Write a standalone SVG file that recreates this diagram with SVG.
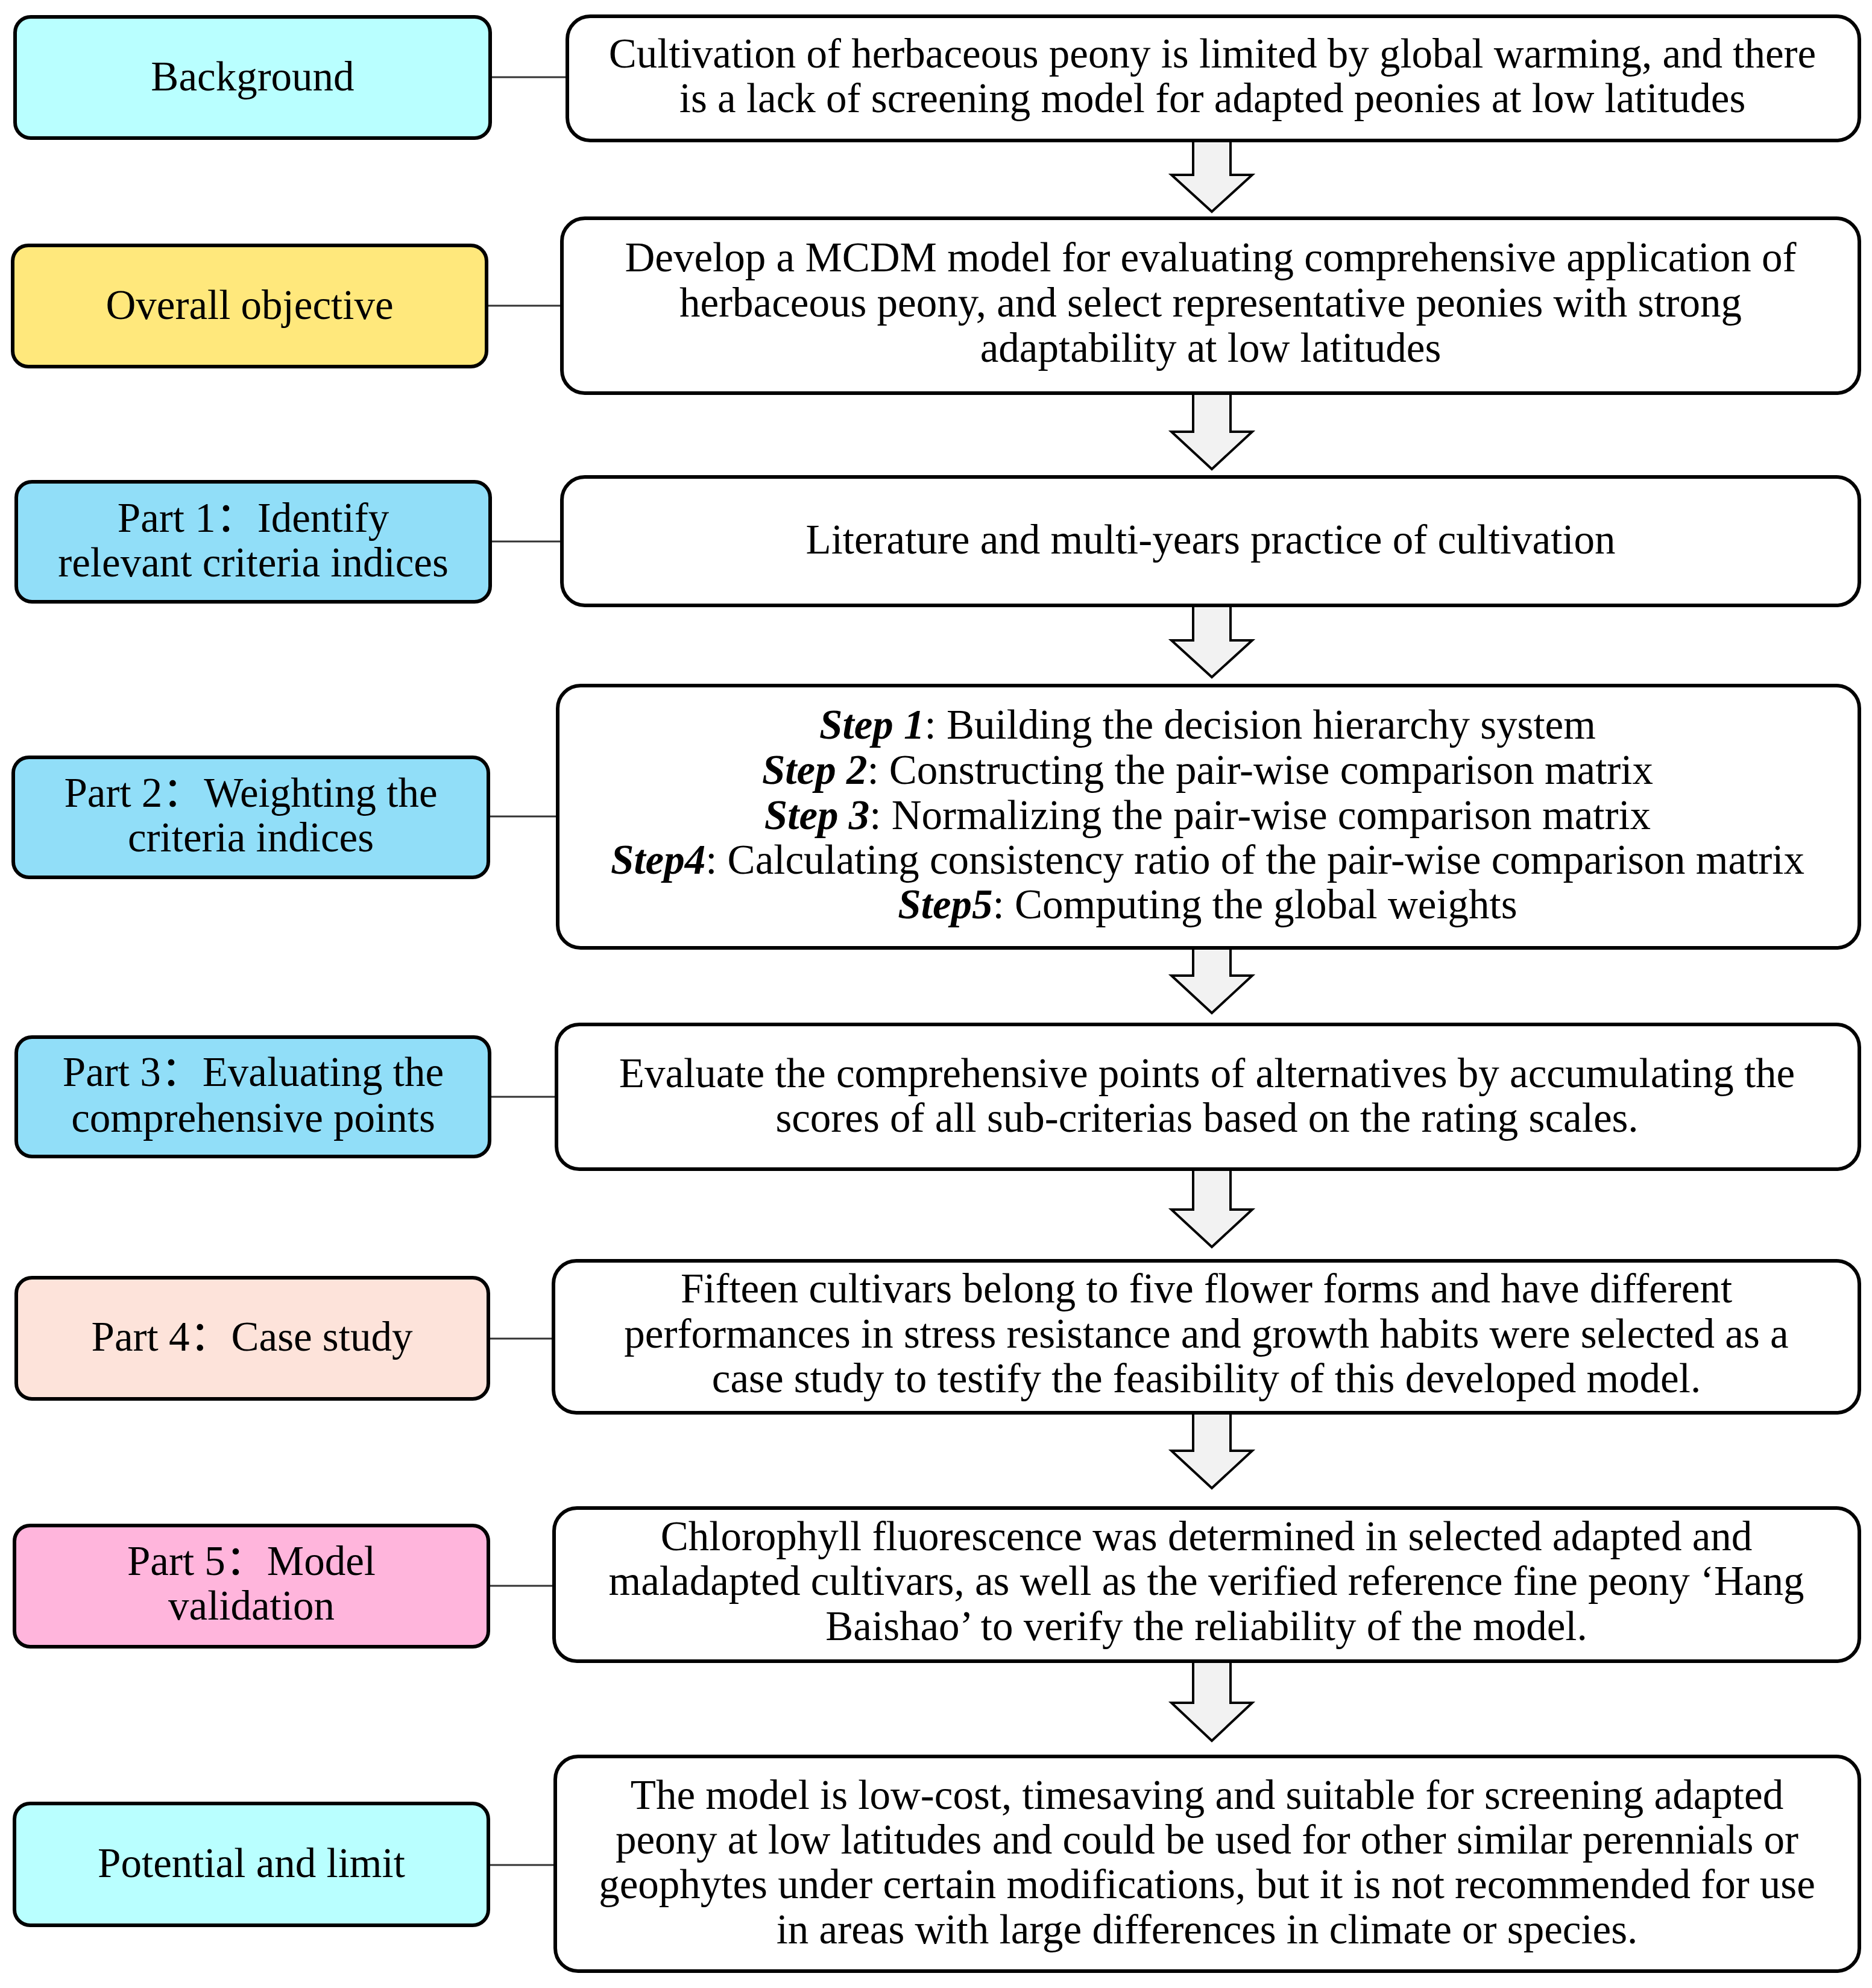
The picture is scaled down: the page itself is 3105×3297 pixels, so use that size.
<svg xmlns="http://www.w3.org/2000/svg" width="3105" height="3297" viewBox="0 0 3105 3297">
<style>
.lb{stroke:#000;stroke-width:6}
.rb{fill:#fff;stroke:#000;stroke-width:6}
.t{font-family:"Liberation Serif","Noto Sans CJK SC",serif;font-size:69px;text-anchor:middle;fill:#000}
.s{font-weight:bold;font-style:italic}
.c{stroke:#333;stroke-width:3;fill:none}
.ar{fill:#f2f2f2;stroke:#000;stroke-width:4;stroke-linejoin:miter}
.bg{fill:#b9ffff}.ob{fill:#ffe87c}.pt{fill:#91def8}.p4{fill:#fde3da}.p5{fill:#ffb5dc}
</style>
<rect width="3105" height="3297" fill="#fff"/>
<g id="connectors">
<line class="c" x1="813" y1="128" x2="941" y2="128"/>
<line class="c" x1="807" y1="507" x2="932" y2="507"/>
<line class="c" x1="813" y1="898" x2="932" y2="898"/>
<line class="c" x1="810" y1="1354" x2="925" y2="1354"/>
<line class="c" x1="812" y1="1819" x2="923" y2="1819"/>
<line class="c" x1="810" y1="2220" x2="918" y2="2220"/>
<line class="c" x1="810" y1="2630" x2="919" y2="2630"/>
<line class="c" x1="810" y1="3093" x2="921" y2="3093"/>
<polygon class="ar" points="1979,228 2041,228 2041,290 2077,290 2010,351 1943,290 1979,290"/>
<polygon class="ar" points="1979,647 2041,647 2041,716 2077,716 2010,778 1943,716 1979,716"/>
<polygon class="ar" points="1979,999 2041,999 2041,1062 2077,1062 2010,1123 1943,1062 1979,1062"/>
<polygon class="ar" points="1979,1567 2041,1567 2041,1618 2077,1618 2010,1680 1943,1618 1979,1618"/>
<polygon class="ar" points="1979,1934 2041,1934 2041,2006 2077,2006 2010,2068 1943,2006 1979,2006"/>
<polygon class="ar" points="1979,2338 2041,2338 2041,2406 2077,2406 2010,2468 1943,2406 1979,2406"/>
<polygon class="ar" points="1979,2750 2041,2750 2041,2824 2077,2824 2010,2887 1943,2824 1979,2824"/>
</g>
<g id="n-background"><rect class="lb bg" x="25" y="28" width="788" height="201" rx="26"/><text class="t" x="419" y="150">Background</text></g>
<g id="n-objective"><rect class="lb ob" x="21" y="407" width="786" height="201" rx="26"/><text class="t" x="414" y="529">Overall objective</text></g>
<g id="n-part1"><rect class="lb pt" x="27" y="799" width="786" height="199" rx="26"/><text class="t" x="420" y="882">Part 1：Identify</text><text class="t" x="420" y="956">relevant criteria indices</text></g>
<g id="n-part2"><rect class="lb pt" x="22" y="1256" width="788" height="199" rx="26"/><text class="t" x="416" y="1338">Part 2：Weighting the</text><text class="t" x="416" y="1412">criteria indices</text></g>
<g id="n-part3"><rect class="lb pt" x="27" y="1720" width="785" height="198" rx="26"/><text class="t" x="420" y="1801">Part 3：Evaluating the</text><text class="t" x="420" y="1877">comprehensive points</text></g>
<g id="n-part4"><rect class="lb p4" x="27" y="2119" width="783" height="201" rx="26"/><text class="t" x="418" y="2240">Part 4：Case study</text></g>
<g id="n-part5"><rect class="lb p5" x="24" y="2530" width="786" height="201" rx="26"/><text class="t" x="417" y="2612">Part 5：Model</text><text class="t" x="417" y="2686">validation</text></g>
<g id="n-potential"><rect class="lb bg" x="24" y="2991" width="786" height="202" rx="26"/><text class="t" x="417" y="3113">Potential and limit</text></g>
<g id="n-bgtext"><rect class="rb" x="941" y="27" width="2143" height="206" rx="38"/><text class="t" x="2011" y="112">Cultivation of herbaceous peony is limited by global warming, and there</text><text class="t" x="2011" y="186">is a lack of screening model for adapted peonies at low latitudes</text></g>
<g id="n-objtext"><rect class="rb" x="932" y="362" width="2152" height="290" rx="38"/><text class="t" x="2008" y="450">Develop a MCDM model for evaluating comprehensive application of</text><text class="t" x="2008" y="525">herbaceous peony, and select representative peonies with strong</text><text class="t" x="2008" y="600">adaptability at low latitudes</text></g>
<g id="n-p1text"><rect class="rb" x="932" y="791" width="2152" height="213" rx="38"/><text class="t" x="2008" y="918">Literature and multi-years practice of cultivation</text></g>
<g id="n-p2text"><rect class="rb" x="925" y="1137" width="2159" height="435" rx="38"/>
<text class="t" x="2003" y="1225"><tspan class="s">Step 1</tspan>: Building the decision hierarchy system</text>
<text class="t" x="2003" y="1300"><tspan class="s">Step 2</tspan>: Constructing the pair-wise comparison matrix</text>
<text class="t" x="2003" y="1375"><tspan class="s">Step 3</tspan>: Normalizing the pair-wise comparison matrix</text>
<text class="t" x="2003" y="1449"><tspan class="s">Step4</tspan>: Calculating consistency ratio of the pair-wise comparison matrix</text>
<text class="t" x="2003" y="1523"><tspan class="s">Step5</tspan>: Computing the global weights</text></g>
<g id="n-p3text"><rect class="rb" x="923" y="1699" width="2161" height="240" rx="38"/><text class="t" x="2002" y="1803">Evaluate the comprehensive points of alternatives by accumulating the</text><text class="t" x="2002" y="1877">scores of all sub-criterias based on the rating scales.</text></g>
<g id="n-p4text"><rect class="rb" x="918" y="2091" width="2166" height="252" rx="38"/><text class="t" x="2001" y="2160">Fifteen cultivars belong to five flower forms and have different</text><text class="t" x="2001" y="2235">performances in stress resistance and growth habits were selected as a</text><text class="t" x="2001" y="2309">case study to testify the feasibility of this developed model.</text></g>
<g id="n-p5text"><rect class="rb" x="919" y="2501" width="2165" height="254" rx="38"/><text class="t" x="2001" y="2571">Chlorophyll fluorescence was determined in selected adapted and</text><text class="t" x="2001" y="2645">maladapted cultivars, as well as the verified reference fine peony ‘Hang</text><text class="t" x="2001" y="2720">Baishao’ to verify the reliability of the model.</text></g>
<g id="n-pottext"><rect class="rb" x="921" y="2913" width="2163" height="356" rx="38"/><text class="t" x="2002" y="3000">The model is low-cost, timesaving and suitable for screening adapted</text><text class="t" x="2002" y="3074">peony at low latitudes and could be used for other similar perennials or</text><text class="t" x="2002" y="3148">geophytes under certain modifications, but it is not recommended for use</text><text class="t" x="2002" y="3223">in areas with large differences in climate or species.</text></g>
</svg>
